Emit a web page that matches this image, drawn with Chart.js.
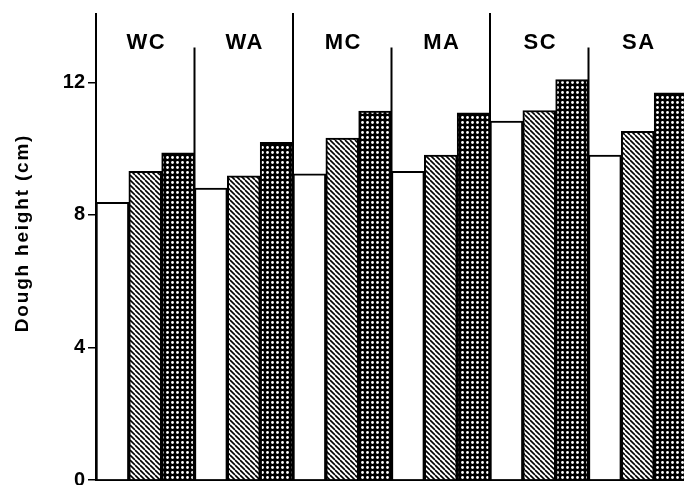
<!DOCTYPE html>
<html lang="en">
<head>
    <meta charset="UTF-8">
    <title>Dough height</title>
    <script src="https://cdn.jsdelivr.net/npm/chart.js"></script>
    <style>
        html, body { margin: 0; padding: 0; overflow: hidden; background: #fff; }
        #wrap { width: 687px; height: 485px; position: relative; }
    </style>
</head>
<body>
<div id="wrap"><canvas id="doughChart"></canvas></div>

<script>
    // group labels and the three bars of each group (cm)
    const categories = ['WC', 'WA', 'MC', 'MA', 'SC', 'SA'];
    const openBars = [8.38, 8.81, 9.24, 9.31, 10.83, 9.80];
    const hatchedBars = [9.31, 9.18, 10.32, 9.80, 11.15, 10.52];
    const crossBars = [9.87, 10.19, 11.13, 11.08, 12.08, 11.68];
    const yTicks = [0, 4, 8, 12];

    const FONT = '"Liberation Sans", Arial, sans-serif';

    const canvas = document.getElementById('doughChart');
    const ctx = canvas.getContext('2d');

    // diagonal hatch "\\\"
    function hatchPattern() {
        const c = document.createElement('canvas');
        c.width = 5; c.height = 5;
        const g = c.getContext('2d');
        g.fillStyle = '#fff';
        g.fillRect(0, 0, 5, 5);
        g.strokeStyle = '#000';
        g.lineWidth = 1.6;
        [-5, 0, 5].forEach(x0 => {
            g.beginPath();
            g.moveTo(x0, 0);
            g.lineTo(x0 + 5, 5);
            g.stroke();
        });
        return ctx.createPattern(c, 'repeat');
    }

    // dense crosshatch: black with white holes
    function crossPattern() {
        const c = document.createElement('canvas');
        c.width = 5; c.height = 5;
        const g = c.getContext('2d');
        g.fillStyle = '#000';
        g.fillRect(0, 0, 5, 5);
        g.fillStyle = '#fff';
        g.beginPath();
        g.arc(2.5, 2.5, 1.4, 0, Math.PI * 2);
        g.fill();
        return ctx.createPattern(c, 'repeat');
    }

    // group separators, group names and the axis title
    const decorations = {
        id: 'decorations',
        afterDatasetsDraw(chart) {
            const { ctx, chartArea, scales: { x, y } } = chart;
            const step = x.getPixelForValue(1) - x.getPixelForValue(0);
            ctx.save();
            ctx.strokeStyle = '#000';
            ctx.lineWidth = 2;
            for (let i = 0; i < categories.length; i++) {
                const bx = x.getPixelForValue(i) + step / 2;
                const tall = i % 2 === 1;
                const top = tall ? chartArea.top - 3 : y.getPixelForValue(13.05);
                ctx.beginPath();
                ctx.moveTo(bx, top);
                ctx.lineTo(bx, chartArea.bottom);
                ctx.stroke();
            }
            // y axis line extends a little above the plot
            ctx.beginPath();
            ctx.moveTo(chartArea.left, chartArea.top - 3);
            ctx.lineTo(chartArea.left, chartArea.bottom);
            ctx.stroke();

            ctx.fillStyle = '#000';
            ctx.font = 'bold 22px ' + FONT;
            ctx.letterSpacing = '1.5px';
            ctx.textAlign = 'center';
            ctx.textBaseline = 'middle';
            categories.forEach((c, i) => {
                ctx.fillText(c, x.getPixelForValue(i) + 1, 43);
            });

            ctx.font = 'bold 19px ' + FONT;
            ctx.letterSpacing = '1.8px';
            ctx.translate(23, 233);
            ctx.rotate(-Math.PI / 2);
            ctx.fillText('Dough height (cm)', 0, 0);
            ctx.restore();
        }
    };

    new Chart(ctx, {
        type: 'bar',
        data: {
            labels: categories,
            datasets: [
                { label: 'open', data: openBars, backgroundColor: '#fff' },
                { label: 'hatched', data: hatchedBars, backgroundColor: hatchPattern() },
                { label: 'cross', data: crossBars, backgroundColor: crossPattern() }
            ].map(d => Object.assign(d, {
                borderColor: '#000',
                borderWidth: 2,
                categoryPercentage: 1,
                barPercentage: 1
            }))
        },
        options: {
            responsive: true,
            maintainAspectRatio: false,
            animation: false,
            layout: { padding: { top: 16, left: 0, right: 0, bottom: 0 } },
            plugins: {
                legend: { display: false },
                tooltip: { enabled: false }
            },
            scales: {
                x: {
                    grid: { display: false },
                    border: { display: true, color: '#000', width: 2 },
                    ticks: { display: false },
                    afterFit: s => { s.height = 5; }
                },
                y: {
                    min: 0,
                    max: 14,
                    afterBuildTicks: s => { s.ticks = yTicks.map(v => ({ value: v })); },
                    afterFit: s => { s.width = 96; s.paddingTop = 0; s.paddingBottom = 0; },
                    grid: {
                        drawOnChartArea: false,
                        drawTicks: true,
                        tickLength: 8,
                        color: '#000',
                        lineWidth: 1.5
                    },
                    border: { display: true, color: '#000', width: 2 },
                    ticks: {
                        color: '#000',
                        padding: 3,
                        font: { family: FONT, size: 20, weight: 'bold' }
                    }
                }
            }
        },
        plugins: [decorations]
    });
</script>
</body>
</html>
